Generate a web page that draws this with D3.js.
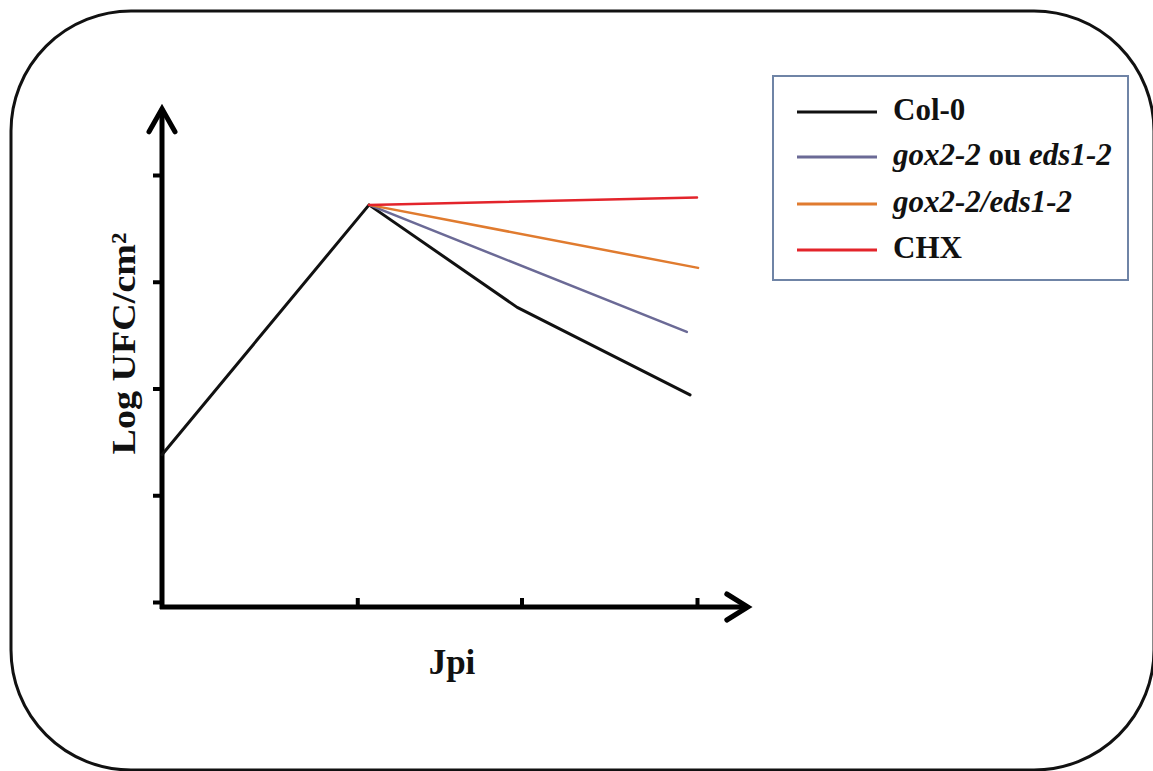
<!DOCTYPE html>
<html>
<head>
<meta charset="utf-8">
<script src="https://cdn.jsdelivr.net/npm/d3@7/dist/d3.min.js"></script>
<style>
  html, body { margin: 0; padding: 0; background: #fff; }
  svg { display: block; }
  text { font-family: "Liberation Serif", "Times New Roman", serif; font-weight: bold; fill: #111; }
</style>
</head>
<body>
<svg id="chart" width="1153" height="771"></svg>
<script>
// ---- data ----
const xTickValues = [0, 3.65, 6.72, 10];          // Jpi ticks (unlabelled)
const yTickValues = [0, 1, 2, 3, 4];               // Log UFC/cm² ticks (unlabelled)
const seriesNames = ["Col-0", "gox2-2 ou eds1-2", "gox2-2/eds1-2", "CHX"];
const seriesColors = ["#111111", "#6b6a96", "#e07b2f", "#e3242b"];
const col0X = [0, 3.87, 6.64, 9.87];
const col0Y = [1.38, 3.72, 2.76, 1.94];
const goxOrEdsX = [3.87, 9.81];
const goxOrEdsY = [3.72, 2.53];
const doubleX = [3.87, 10.02];
const doubleY = [3.72, 3.13];
const chxX = [3.87, 10.0];
const chxY = [3.72, 3.79];

const svg = d3.select("#chart");

// rounded frame
svg.append("rect")
  .attr("x", 11).attr("y", 11).attr("width", 1143).attr("height", 759)
  .attr("rx", 120).attr("ry", 120)
  .attr("fill", "none").attr("stroke", "#111").attr("stroke-width", 3);

const x = d3.scaleLinear().domain([0, 10]).range([162, 697]);
const y = d3.scaleLinear().domain([0, 4]).range([602, 175]);

// axes ticks
const gy = svg.append("g").attr("transform", `translate(${x(0)},0)`)
  .call(d3.axisLeft(y).tickValues(yTickValues).tickSize(9).tickSizeOuter(0).tickFormat(""));
gy.select(".domain").remove();
gy.selectAll(".tick line").attr("stroke", "#000").attr("stroke-width", 4);

const axisY = 607;
const gx = svg.append("g").attr("transform", `translate(0,${axisY})`)
  .call(d3.axisTop(x).tickValues(xTickValues.slice(1)).tickSize(9).tickSizeOuter(0).tickFormat(""));
gx.select(".domain").remove();
gx.selectAll(".tick line").attr("stroke", "#000").attr("stroke-width", 4);

// axis lines with open arrowheads
const yTop = y(4.62), xEnd = x(10.95);
svg.append("path")
  .attr("d", `M${x(0)},${axisY + 2}V${yTop}`)
  .attr("stroke", "#000").attr("stroke-width", 5).attr("fill", "none");
svg.append("path")
  .attr("d", `M${x(0) - 13},${yTop + 23}L${x(0)},${yTop}L${x(0) + 13},${yTop + 23}`)
  .attr("stroke", "#000").attr("stroke-width", 5).attr("fill", "none")
  .attr("stroke-linecap", "round").attr("stroke-linejoin", "miter");
svg.append("path")
  .attr("d", `M${x(0) - 2},${axisY}H${xEnd}`)
  .attr("stroke", "#000").attr("stroke-width", 5).attr("fill", "none");
svg.append("path")
  .attr("d", `M${xEnd - 21},${axisY - 13}L${xEnd},${axisY}L${xEnd - 21},${axisY + 13}`)
  .attr("stroke", "#000").attr("stroke-width", 5).attr("fill", "none")
  .attr("stroke-linecap", "round").attr("stroke-linejoin", "miter");

// series lines
const line = d3.line().x(d => x(d[0])).y(d => y(d[1]));
const series = [
  d3.zip(col0X, col0Y),
  d3.zip(goxOrEdsX, goxOrEdsY),
  d3.zip(doubleX, doubleY),
  d3.zip(chxX, chxY)
];
const widths = [3, 2.5, 2.5, 2.5];
series.forEach((s, i) => {
  svg.append("path").datum(s).attr("d", line)
    .attr("fill", "none").attr("stroke", seriesColors[i])
    .attr("stroke-width", widths[i]).attr("stroke-linejoin", "round").attr("stroke-linecap", "round");
});

// axis titles
svg.append("text")
  .attr("transform", `translate(135,${(y(0) + y(4)) / 2 - 45}) rotate(-90)`)
  .attr("text-anchor", "middle").attr("font-size", 33)
  .attr("textLength", 222).attr("lengthAdjust", "spacingAndGlyphs")
  .text("Log UFC/cm²");
svg.append("text")
  .attr("x", 452).attr("y", 674).attr("text-anchor", "middle").attr("font-size", 35)
  .text("Jpi");

// legend
const lg = svg.append("g");
lg.append("rect").attr("x", 773).attr("y", 76).attr("width", 355).attr("height", 204)
  .attr("fill", "#fff").attr("stroke", "#6f84a6").attr("stroke-width", 2);
const legendY = [112, 157, 204, 250];
const legendParts = [
  [["Col-0", false]],
  [["gox2-2", true], [" ou ", false], ["eds1-2", true]],
  [["gox2-2/eds1-2", true]],
  [["CHX", false]]
];
const legendWidths = [72, 225, 190, 68];
legendY.forEach((ly, i) => {
  lg.append("line").attr("x1", 797).attr("x2", 877).attr("y1", ly).attr("y2", ly)
    .attr("stroke", seriesColors[i]).attr("stroke-width", 3);
  const t = lg.append("text").attr("x", 893).attr("y", ly + 8).attr("font-size", 31);
  legendParts[i].forEach(p => {
    t.append("tspan").attr("font-style", p[1] ? "italic" : "normal")
      .attr("xml:space", "preserve").text(p[0]);
  });
});
</script>
</body>
</html>
